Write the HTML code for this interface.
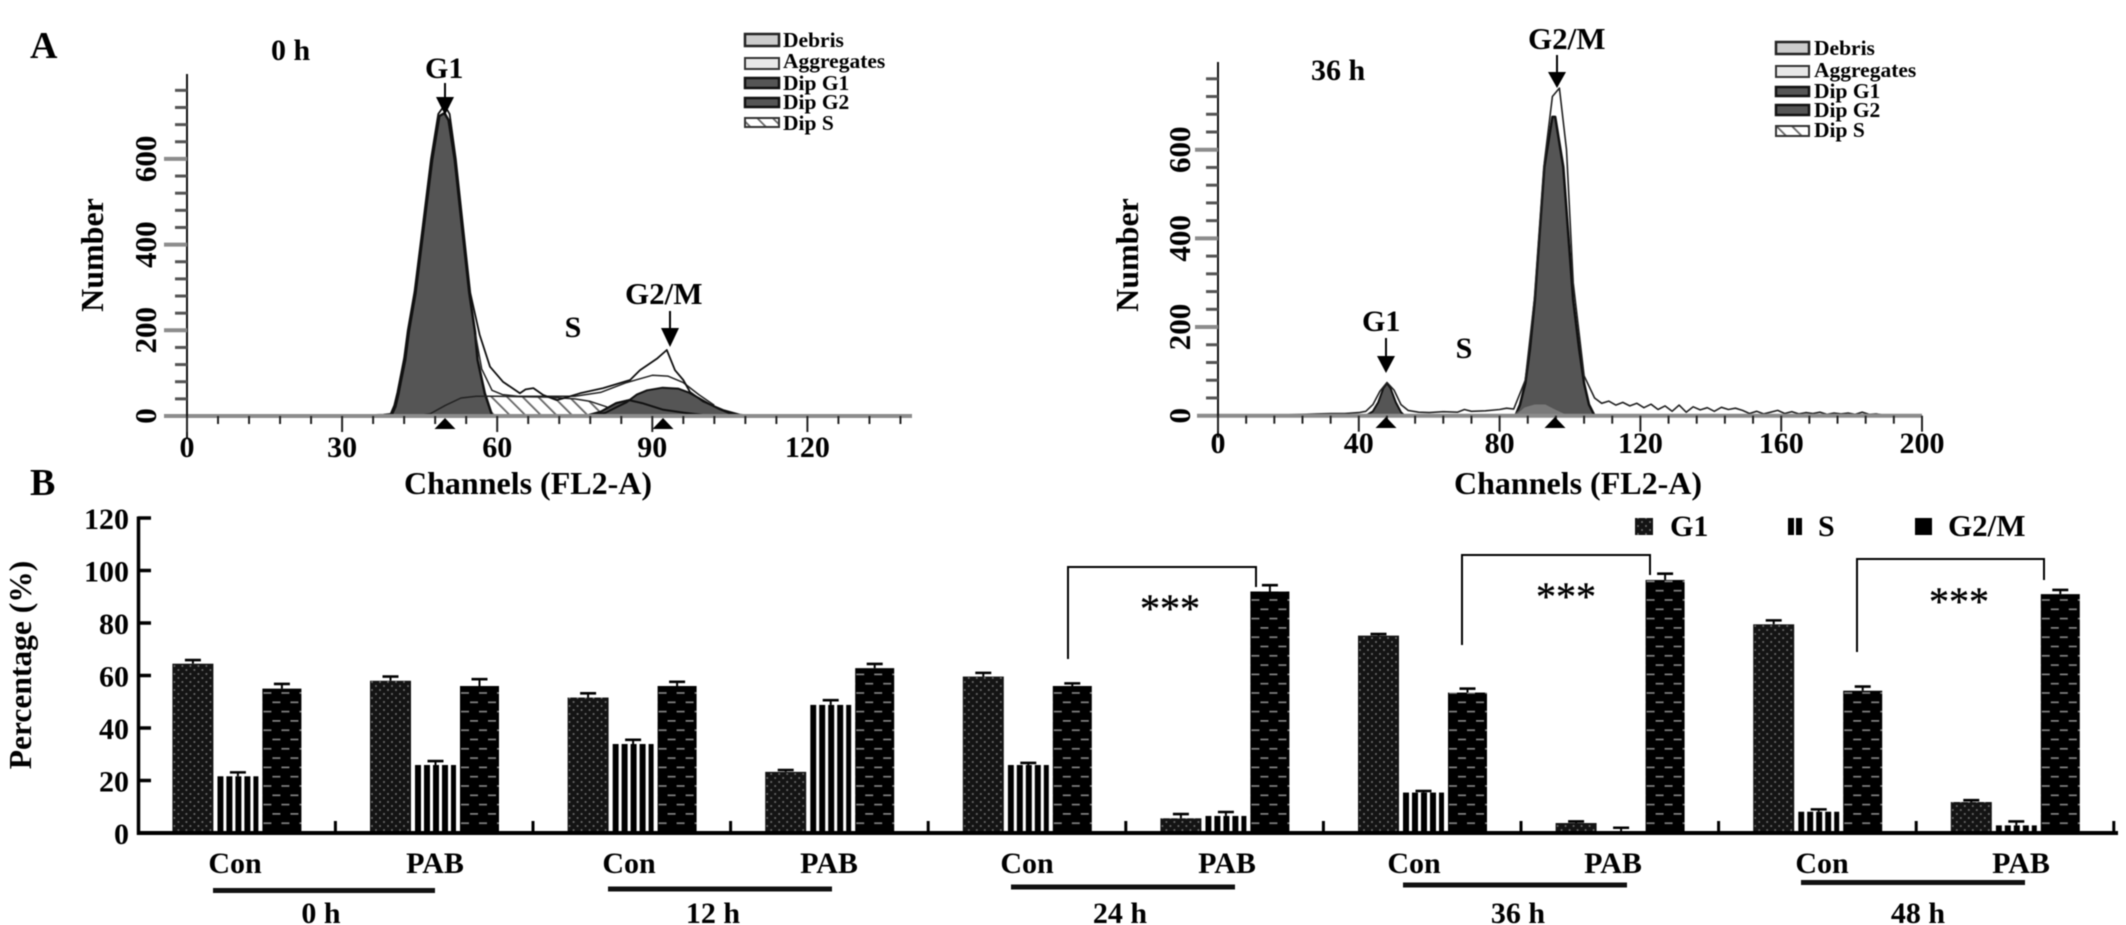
<!DOCTYPE html>
<html lang="en">
<head>
<meta charset="utf-8">
<title>Cell cycle flow cytometry histograms and phase percentage bars</title>
<style>
html,body{margin:0;padding:0;background:#fff;}
svg{display:block;filter:blur(0.55px);}
text{font-family:"Liberation Serif",serif;font-weight:bold;fill:#000;}
</style>
</head>
<body>
<svg id="figure" xmlns="http://www.w3.org/2000/svg" width="2126" height="925" viewBox="0 0 2126 925">
<defs>
<pattern id="pat-g1" patternUnits="userSpaceOnUse" width="8" height="8">
<rect width="8" height="8" fill="#141414"/><circle cx="2" cy="2" r="1" fill="#707070"/><circle cx="6" cy="6" r="1" fill="#707070"/>
</pattern>
<pattern id="pat-s" patternUnits="userSpaceOnUse" width="9" height="9">
<rect width="9" height="9" fill="#fff"/><rect width="6" height="9" fill="#000"/>
</pattern>
<pattern id="pat-g2m" patternUnits="userSpaceOnUse" width="18" height="18.6">
<rect width="18" height="18.6" fill="#000"/><rect x="1" y="4" width="8" height="1.6" fill="#8a8a8a"/><rect x="10" y="13.3" width="8" height="1.6" fill="#8a8a8a"/>
</pattern>
<pattern id="pat-hatch" patternUnits="userSpaceOnUse" width="11" height="11" patternTransform="rotate(-45)">
<rect width="11" height="11" fill="#fff"/><rect width="1.8" height="11" fill="#666"/>
</pattern>
</defs>

<text x="30" y="58" font-size="38">A</text>
<text x="30" y="495" font-size="38">B</text>

<g id="hist-left"></g>
<g id="hist-right"></g>

<text x="271" y="60" font-size="30">0 h</text>
<text x="1311" y="80" font-size="30">36 h</text>

<text x="103" y="255" font-size="32" text-anchor="middle" transform="rotate(-90 103 255)">Number</text>
<text x="1138" y="255" font-size="32" text-anchor="middle" transform="rotate(-90 1138 255)">Number</text>
<text x="528" y="494" font-size="32" text-anchor="middle">Channels (FL2-A)</text>
<text x="1578" y="494" font-size="32" text-anchor="middle">Channels (FL2-A)</text>

<text x="425" y="78" font-size="30">G1</text>
<text x="625" y="304" font-size="31">G2/M</text>
<text x="573" y="337" font-size="30" text-anchor="middle">S</text>
<text x="1528" y="49" font-size="31">G2/M</text>
<text x="1362" y="331" font-size="30">G1</text>
<text x="1464" y="358" font-size="30" text-anchor="middle">S</text>

<g font-size="21.5">
<rect x="745" y="34" width="34" height="12" fill="#ccc" stroke="#222" stroke-width="2.5"/>
<text x="783" y="47">Debris</text>
<rect x="745" y="58" width="34" height="11" fill="#e8e8e8" stroke="#333" stroke-width="2"/>
<text x="783" y="68">Aggregates</text>
<rect x="745" y="78" width="34" height="10" fill="#555" stroke="#111" stroke-width="2.5"/>
<text x="783" y="90">Dip G1</text>
<rect x="745" y="98" width="34" height="9" fill="#555" stroke="#111" stroke-width="2.5"/>
<text x="783" y="109">Dip G2</text>
<rect x="745" y="118" width="34" height="9" fill="url(#pat-hatch)" stroke="#333" stroke-width="2"/>
<text x="783" y="130">Dip S</text>
</g>
<g font-size="21.5">
<rect x="1776" y="42" width="33" height="12" fill="#ccc" stroke="#222" stroke-width="2.5"/>
<text x="1814" y="55">Debris</text>
<rect x="1776" y="66" width="33" height="11" fill="#e8e8e8" stroke="#333" stroke-width="2"/>
<text x="1814" y="77">Aggregates</text>
<rect x="1776" y="87" width="33" height="9" fill="#555" stroke="#111" stroke-width="2.5"/>
<text x="1814" y="98">Dip G1</text>
<rect x="1776" y="105" width="33" height="10" fill="#555" stroke="#111" stroke-width="2.5"/>
<text x="1814" y="117">Dip G2</text>
<rect x="1776" y="126" width="33" height="10" fill="url(#pat-hatch)" stroke="#333" stroke-width="2"/>
<text x="1814" y="137">Dip S</text>
</g>

<g id="bars"></g>

<text x="31" y="665" font-size="31.5" text-anchor="middle" transform="rotate(-90 31 665)">Percentage (%)</text>

<g>
<rect x="1635" y="518" width="18" height="17" fill="url(#pat-g1)"/>
<text x="1670" y="536" font-size="30">G1</text>
<g>
<rect x="1788" y="518" width="6" height="17" fill="#000"/>
<rect x="1796" y="518" width="6" height="17" fill="#000"/>
</g>
<text x="1818" y="536" font-size="30">S</text>
<rect x="1915" y="518" width="17" height="17" fill="#000"/>
<text x="1948" y="536" font-size="31">G2/M</text>
</g>

<g>
<path d="M1068 659V567H1256V587" fill="none" stroke="#000" stroke-width="2"/>
<text x="1170" y="622" font-size="40" text-anchor="middle" stroke="#000" stroke-width="0.4" style="font-weight:normal">***</text>
</g>
<g>
<path d="M1462 645V555H1650V575" fill="none" stroke="#000" stroke-width="2"/>
<text x="1566" y="610" font-size="40" text-anchor="middle" stroke="#000" stroke-width="0.4" style="font-weight:normal">***</text>
</g>
<g>
<path d="M1857 652V559H2044V580" fill="none" stroke="#000" stroke-width="2"/>
<text x="1959" y="615" font-size="40" text-anchor="middle" stroke="#000" stroke-width="0.4" style="font-weight:normal">***</text>
</g>

<g font-size="30" text-anchor="middle">
<text x="235" y="873">Con</text>
<text x="435" y="873">PAB</text>
<text x="629" y="873">Con</text>
<text x="829" y="873">PAB</text>
<text x="1027" y="873">Con</text>
<text x="1227" y="873">PAB</text>
<text x="1414" y="873">Con</text>
<text x="1613" y="873">PAB</text>
<text x="1822" y="873">Con</text>
<text x="2021" y="873">PAB</text>
<rect x="213" y="888" width="222" height="5" fill="#111"/>
<rect x="608" y="886.5" width="224" height="5" fill="#111"/>
<rect x="1011" y="884.5" width="224" height="5" fill="#111"/>
<rect x="1403" y="882.5" width="224" height="5" fill="#111"/>
<rect x="1801" y="880" width="224" height="5" fill="#111"/>
<text x="321" y="923">0 h</text>
<text x="713" y="923">12 h</text>
<text x="1120" y="923">24 h</text>
<text x="1518" y="923">36 h</text>
<text x="1918" y="923">48 h</text>
</g>
</svg>

<script>
// ---------- Bar chart data ----------
const barTicks = [0, 20, 40, 60, 80, 100, 120];
const g1Values  = [64.5, 58, 51.6, 23.3, 59.6, 5.6, 75.2, 3.8, 79.5, 11.8];
const sValues   = [21.6, 25.9, 33.9, 48.8, 25.9, 6.5, 15.4, 0.3, 8.1, 2.9];
const g2mValues = [55, 56, 56, 62.8, 56, 92, 53.5, 96.4, 54.2, 91];
const g1Errors  = [1.4, 1.6, 1.6, 0.7, 1.4, 1.6, 0.6, 0.6, 1.5, 0.7];
const sErrors   = [1.5, 1.5, 1.6, 1.8, 0.8, 1.5, 0.6, 1.7, 0.9, 1.5];
const g2mErrors = [1.8, 2.6, 1.6, 1.6, 1, 2.4, 1.5, 2.4, 1.6, 1.6];

// ---------- Histogram data: 0 h ----------
const xTicks0h = [0, 30, 60, 90, 120];
const yTicks0h = [0, 200, 400, 600];
const dipG1Channels0h = [38, 39.6, 40.3, 40.9, 41.3, 42.2, 42.9, 44.2, 45.8, 47.4, 48.8, 49.8, 50.6, 51.8, 53.2, 54.6, 55.7, 56.2, 57.6, 59];
const dipG1Counts0h   = [0, 3, 22, 53, 77, 131, 197, 287, 442, 597, 700, 707, 690, 597, 442, 287, 197, 131, 53, 2];
const dipG2Channels0h = [78, 81, 83, 85, 87, 89, 92, 95, 97, 99, 101, 103, 105, 108];
const dipG2Counts0h   = [0, 8, 20, 32, 50, 60, 66, 64, 55, 42, 28, 16, 6, 0];
const dipSChannels0h  = [44, 47, 50, 53, 56, 60, 65, 70, 75, 78, 81, 84];
const dipSCounts0h    = [0, 5, 25, 42, 46, 46, 45, 44, 40, 34, 22, 6];
const debrisChannels0h = [77, 80, 83, 85.5, 88, 92, 96, 100];
const debrisCounts0h   = [0, 10, 30, 37, 30, 15, 8, 2];
const aggChannels0h = [55.8, 57, 59, 61, 64, 70, 75, 80, 85, 90, 93, 96, 99, 102];
const aggCounts0h   = [190, 110, 60, 50, 46, 46, 46, 55, 78, 95, 93, 78, 50, 25];
const totalChannels0h = [25, 35, 38, 39.4, 40.1, 40.7, 42, 42.7, 44, 45.6, 47.2, 48.6, 49.8, 50.8, 52, 53.4, 54.8, 56.6, 58.6, 61.1, 64.4, 65.5, 67, 68.9, 71.5, 73, 76, 80.5, 85.7, 87.6, 89.6, 91, 92.8, 94.4, 96, 97.3, 99.8, 103.7, 107, 110];
const totalCounts0h   = [0, 2, 3, 5, 25, 55, 135, 200, 290, 445, 600, 705, 725, 705, 600, 442, 287, 190, 115, 80, 53, 62, 65, 49, 37, 42, 53, 65, 84, 107, 123, 135, 154, 107, 84, 56, 34, 14, 3, 0];

// ---------- Histogram data: 36 h ----------
const xTicks36h = [0, 40, 80, 120, 160, 200];
const yTicks36h = [0, 200, 400, 600];
const dipG1Channels36h = [42, 44, 45.5, 47, 48, 49, 50.5, 52, 53];
const dipG1Counts36h   = [0, 10, 30, 62, 73, 62, 30, 8, 0];
const dipG2Channels36h = [84.5, 85.8, 87.3, 88.6, 90, 92.7, 95, 95.8, 98.1, 100.9, 102.6, 104, 105.4, 107];
const dipG2Counts36h   = [0, 25, 73, 150, 261, 561, 674, 674, 561, 261, 150, 73, 25, 0];
const debrisChannels36h = [84, 87, 90, 93, 96, 100];
const debrisCounts36h   = [0, 20, 27, 27, 15, 0];
const totalChannels36h = [15, 20, 24, 28, 32, 36, 40, 42, 44, 46, 48, 50, 52, 54, 57, 60, 64, 68, 70, 72, 76, 80, 82, 84, 87.3, 90, 92.7, 95, 97, 99, 100.9, 104, 107, 109, 111, 113, 115, 117, 119, 121, 123, 125, 127, 129, 131, 133, 135, 137, 139, 141, 143, 145, 147, 149, 151, 153, 155, 157, 159, 161, 163, 165, 167, 169, 171, 173, 175, 177, 179, 181, 183, 185, 187, 190];
const totalCounts36h   = [0, 2, 3, 4, 5, 5, 7, 10, 25, 55, 75, 58, 25, 12, 8, 7, 9, 8, 14, 10, 11, 14, 17, 15, 80, 270, 570, 720, 739, 600, 300, 90, 40, 28, 33, 24, 30, 22, 28, 18, 26, 14, 22, 10, 24, 8, 20, 13, 18, 10, 19, 14, 17, 12, 5, 10, 4, 8, 12, 5, 9, 4, 7, 5, 8, 3, 6, 4, 6, 3, 8, 3, 4, 0];

// ---------- Axis functions ----------
const x0h = c => 187 + c * 5.17;
const y0h = n => 416 - n * 0.4285;
const x36h = c => 1218 + c * 3.52;
const y36h = n => 415.7 - n * 0.4433;
const yBar = v => 833 - v * 2.625;
const xGroup = i => 172.4 + 197.6 * i;

const NS = 'http://www.w3.org/2000/svg';
function make(parent, tag, attrs, text) {
  const el = document.createElementNS(NS, tag);
  for (const k in attrs) el.setAttribute(k, attrs[k]);
  if (text !== undefined) el.textContent = text;
  parent.appendChild(el);
  return el;
}
function pointList(xs, ys, sx, sy) {
  return xs.map((c, i) => sx(c).toFixed(1) + ',' + sy(ys[i]).toFixed(1)).join(' ');
}
function areaPoints(xs, ys, sx, sy) {
  return sx(xs[0]).toFixed(1) + ',' + sy(0).toFixed(1) + ' ' + pointList(xs, ys, sx, sy) + ' ' + sx(xs[xs.length - 1]).toFixed(1) + ',' + sy(0).toFixed(1);
}
function drawArea(parent, xs, ys, sx, sy, fill, stroke, width, name) {
  const el = make(parent, 'polygon', {points: areaPoints(xs, ys, sx, sy), fill: fill, stroke: stroke, 'stroke-width': width, 'stroke-linejoin': 'round'});
  
  
}
function drawLine(parent, xs, ys, sx, sy, stroke, width, name) {
  const el = make(parent, 'polyline', {points: pointList(xs, ys, sx, sy), fill: 'none', stroke: stroke, 'stroke-width': width, 'stroke-linejoin': 'round'});
  
  
}
function drawArrow(parent, x, top, headTop, tip, name) {
  const el = make(parent, 'path', {d: 'M' + (x - 1) + ' ' + top + 'H' + (x + 1) + 'V' + headTop + 'H' + (x + 9) + 'L' + x + ' ' + tip + 'L' + (x - 9) + ' ' + headTop + 'H' + (x - 1) + 'Z', fill: '#000'});
  
  
}
function drawMarker(parent, x, top, bottom, name) {
  const el = make(parent, 'polygon', {points: x + ',' + top + ' ' + (x + 10.5) + ',' + bottom + ' ' + (x - 10.5) + ',' + bottom, fill: '#000'});
  
  
}
function drawHistAxes(g, sx, sy, xTicks, yTicks, xStep, xMax, yMax, axisTop, lineStart, lineEnd, labelBaselineX, tickBaselineY) {
  const x0 = sx(0), y0 = sy(0);
  const base = make(g, 'line', {x1: lineStart, x2: lineEnd, y1: y0, y2: y0, stroke: '#8c8c8c', 'stroke-width': 4});
  
  
  const yAxis = make(g, 'line', {x1: x0, x2: x0, y1: axisTop, y2: y0 + 22, stroke: '#111', 'stroke-width': 2});
  
  
  for (let c = 0; c <= xMax; c += xStep) {
    const major = xTicks.indexOf(c) >= 0;
    const t = make(g, 'line', {x1: sx(c), x2: sx(c), y1: y0, y2: y0 + (major ? 16 : 8), stroke: '#222', 'stroke-width': 2});
    
    
  }
  xTicks.forEach(c => {
    const t = make(g, 'text', {x: sx(c), y: tickBaselineY, 'font-size': 30, 'text-anchor': 'middle'}, String(c));
    
    
  });
  for (let n = 40; n <= yMax; n += 40) {
    const major = yTicks.indexOf(n) >= 0;
    const t = make(g, 'line', {x1: x0 - (major ? 23 : 12), x2: x0, y1: sy(n), y2: sy(n), stroke: major ? '#8c8c8c' : '#555', 'stroke-width': major ? 4 : 3});
    
    
  }
  yTicks.forEach(n => {
    const yy = sy(n);
    const t = make(g, 'text', {x: labelBaselineX, y: yy, 'font-size': 31, 'text-anchor': 'middle', transform: 'rotate(-90 ' + labelBaselineX + ' ' + yy + ')'}, String(n));
    
    
  });
}

// ---------- Left histogram ----------
const gL = document.getElementById('hist-left');
drawArea(gL, dipSChannels0h, dipSCounts0h, x0h, y0h, 'url(#pat-hatch)', '#222', 1.5, 'dip-s-area');
drawArea(gL, debrisChannels0h, debrisCounts0h, x0h, y0h, '#555', '#111', 2, 'debris-area');
drawArea(gL, dipG2Channels0h, dipG2Counts0h, x0h, y0h, '#555', '#111', 2, 'dip-g2-area');
drawArea(gL, dipG1Channels0h, dipG1Counts0h, x0h, y0h, '#555', '#111', 2.5, 'dip-g1-area');
drawLine(gL, dipSChannels0h.slice(0, 6), dipSCounts0h.slice(0, 6), x0h, y0h, '#222', 1.5, 'dip-s-curve');
drawLine(gL, debrisChannels0h, debrisCounts0h, x0h, y0h, '#111', 2, 'debris-curve');
drawLine(gL, aggChannels0h, aggCounts0h, x0h, y0h, '#222', 1.5, 'aggregates-curve');
drawLine(gL, totalChannels0h, totalCounts0h, x0h, y0h, '#111', 1.8, 'total-events-curve');
drawHistAxes(gL, x0h, y0h, xTicks0h, yTicks0h, 6, 138, 760, 74, 164, 912, 156, 457);
drawArrow(gL, 445, 83, 97, 115, 'g1-arrow-0h');
drawArrow(gL, 670, 311, 328, 347, 'g2m-arrow-0h');
drawMarker(gL, 445, 418, 429, 'g1-peak-marker-0h');
drawMarker(gL, 663, 418, 429, 'g2-peak-marker-0h');

// ---------- Right histogram ----------
const gR = document.getElementById('hist-right');
drawArea(gR, dipG1Channels36h, dipG1Counts36h, x36h, y36h, '#555', '#111', 2, 'dip-g1-area');
drawArea(gR, dipG2Channels36h, dipG2Counts36h, x36h, y36h, '#555', '#111', 2.5, 'dip-g2-area');
drawArea(gR, debrisChannels36h, debrisCounts36h, x36h, y36h, '#7a7a7a', '#555', 1.5, 'debris-area');
drawLine(gR, totalChannels36h, totalCounts36h, x36h, y36h, '#222', 1.6, 'total-events-curve');
drawHistAxes(gR, x36h, y36h, xTicks36h, yTicks36h, 8, 200, 760, 62, 1197, 1922, 1190, 453);
drawArrow(gR, 1557, 55, 72, 88, 'g2m-arrow-36h');
drawArrow(gR, 1386, 338, 356, 373, 'g1-arrow-36h');
drawMarker(gR, 1386, 417, 428, 'g1-peak-marker-36h');
drawMarker(gR, 1555, 417, 428, 'g2-peak-marker-36h');

// ---------- Bar chart ----------
const gB = document.getElementById('bars');
const seriesList = [
  {name: 'g1', values: g1Values, errors: g1Errors, fill: 'url(#pat-g1)', offset: 0, width: 41},
  {name: 's', values: sValues, errors: sErrors, fill: 'url(#pat-s)', offset: 45, width: 41},
  {name: 'g2m', values: g2mValues, errors: g2mErrors, fill: 'url(#pat-g2m)', offset: 90, width: 39}
];
seriesList.forEach(series => {
  series.values.forEach((v, i) => {
    const left = xGroup(i) + series.offset;
    const bar = make(gB, 'rect', {x: 0, y: yBar(v), width: series.width, height: yBar(0) - yBar(v), fill: series.fill, transform: 'translate(' + left.toFixed(1) + ',0)'});
    
    
    const cx = left + series.width / 2;
    const capY = yBar(v + series.errors[i]);
    const stem = make(gB, 'line', {x1: cx, x2: cx, y1: yBar(v), y2: capY, stroke: '#000', 'stroke-width': 2});
    
    
    const cap = make(gB, 'line', {x1: cx - 8, x2: cx + 8, y1: capY, y2: capY, stroke: '#000', 'stroke-width': 2.6});
    
    
  });
});
const barYAxis = make(gB, 'line', {x1: 138.5, x2: 138.5, y1: yBar(120) - 1.5, y2: yBar(0) + 2, stroke: '#000', 'stroke-width': 3.5});


const barXAxis = make(gB, 'line', {x1: 137, x2: 2118, y1: yBar(0), y2: yBar(0), stroke: '#000', 'stroke-width': 4});


barTicks.forEach(v => {
  const t = make(gB, 'line', {x1: 138, x2: 151, y1: yBar(v), y2: yBar(v), stroke: '#000', 'stroke-width': 3.5});
  
  
  const l = make(gB, 'text', {x: 129, y: yBar(v) + 11, 'font-size': 30, 'text-anchor': 'end'}, String(v));
  
  
});
g1Values.forEach((v, i) => {
  const sx = xGroup(i) + 163;
  const t = make(gB, 'line', {x1: sx, x2: sx, y1: 821, y2: 833, stroke: '#000', 'stroke-width': 3});
  
  
});
</script>
</body>
</html>
